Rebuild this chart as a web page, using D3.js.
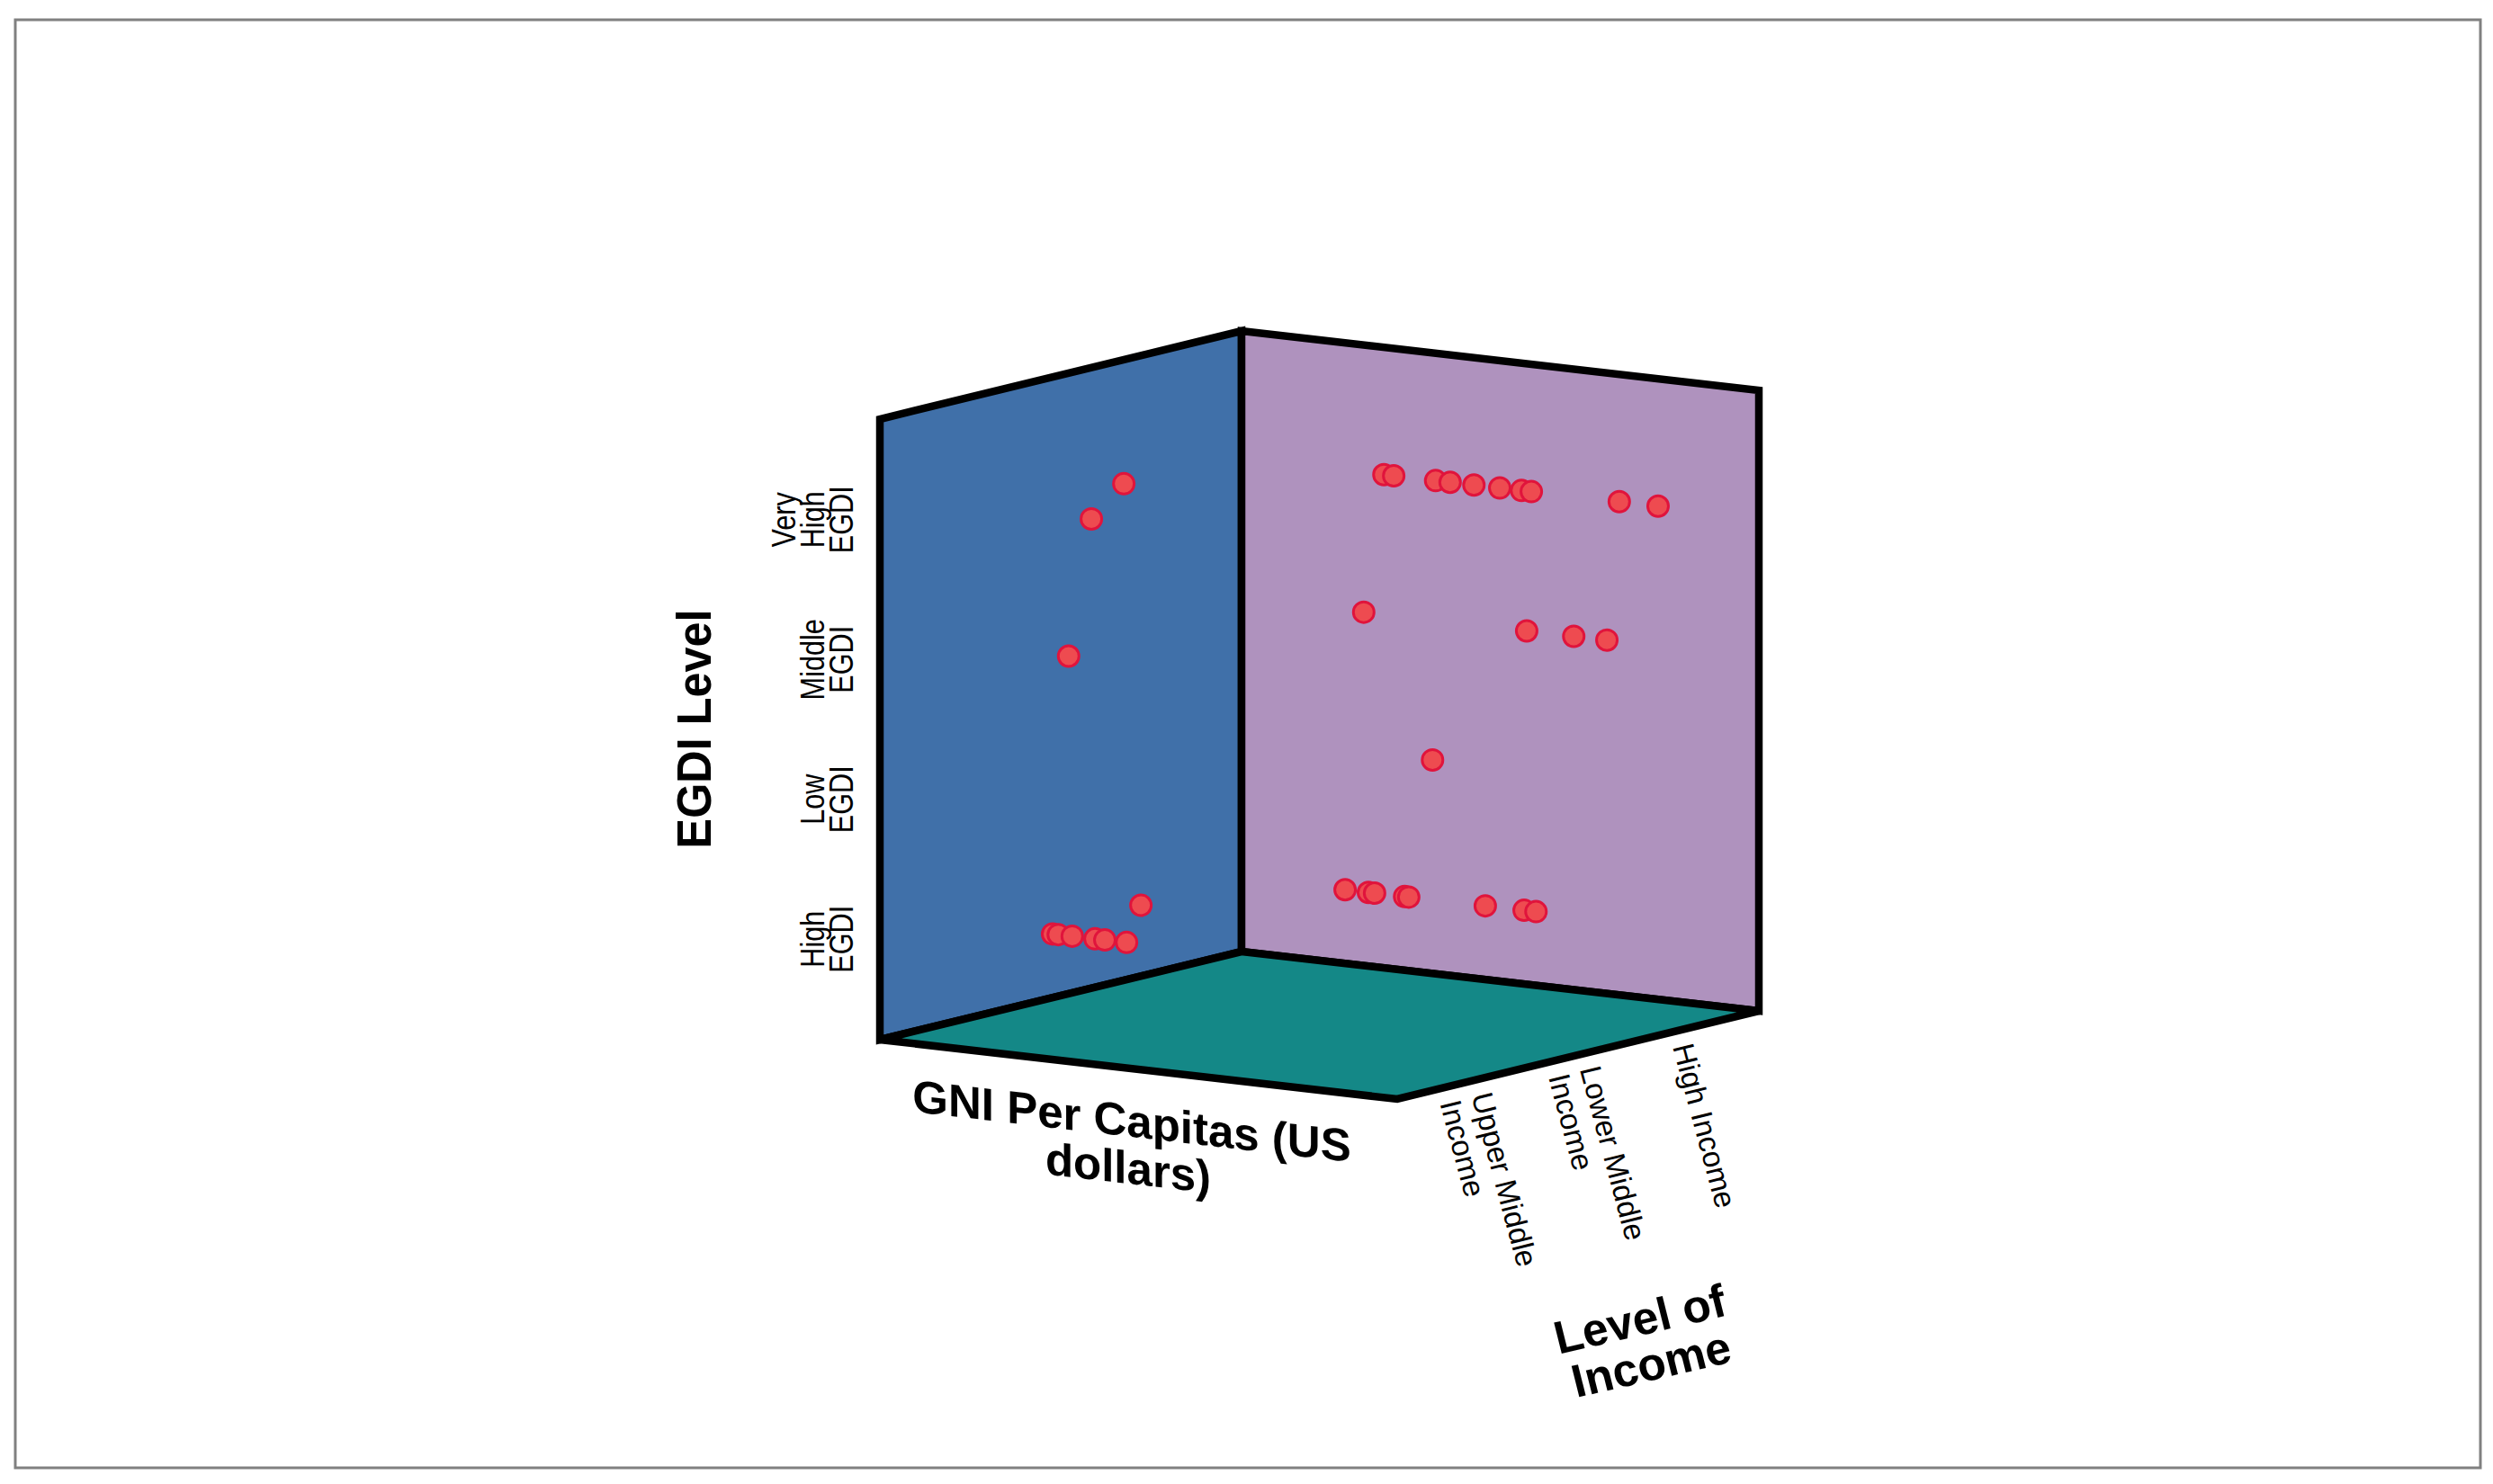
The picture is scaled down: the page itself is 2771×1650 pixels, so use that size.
<!DOCTYPE html>
<html>
<head>
<meta charset="utf-8">
<script src="https://cdn.jsdelivr.net/npm/d3@7"></script>
<style>
  html, body { margin: 0; padding: 0; background: #fff; }
  text { font-family: "Liberation Sans", Arial, sans-serif; fill: #000; }
</style>
</head>
<body>
<div id="chart"></div>
<script>
// categories, in axis order (egdi from the floor up, income from the back wall forward)
const egdiLevels = ['High EGDI', 'Low EGDI', 'Middle EGDI', 'Very High EGDI']
const incomeLevels = ['High Income', 'Lower Middle Income', 'Upper Middle Income']

const egdiTickLines = [['High', 'EGDI'], ['Low', 'EGDI'], ['Middle', 'EGDI'], ['Very', 'High', 'EGDI']]
const incomeTickLines = [['High Income'], ['Lower Middle', 'Income'], ['Upper Middle', 'Income']]

// GNI has no printed ticks, so these are positions read along the axis, 0 to 100
const gniVeryHighHigh = [41.5, 43.4, 51.5, 54.3, 58.9, 63.9, 68.1, 70, 87, 94.5]
const gniMiddleHigh = [37.6, 69.1, 78.2, 84.6]
const gniLowHigh = [50.9]
const gniHighHigh = [34, 38.5, 39.7, 45.5, 46.3, 61.1, 68.6, 70.9]
const gniVeryHighLower = [12.2]
const gniHighLower = [15.5]
const gniVeryHighUpper = [26.9]
const gniMiddleUpper = [22.5]
const gniHighUpper = [19.4, 20.5, 23.2, 27.6, 29.5, 33.7]

const groups = [
    [gniVeryHighHigh, 'Very High EGDI', 'High Income'],
    [gniMiddleHigh, 'Middle EGDI', 'High Income'],
    [gniLowHigh, 'Low EGDI', 'High Income'],
    [gniHighHigh, 'High EGDI', 'High Income'],
    [gniVeryHighLower, 'Very High EGDI', 'Lower Middle Income'],
    [gniHighLower, 'High EGDI', 'Lower Middle Income'],
    [gniVeryHighUpper, 'Very High EGDI', 'Upper Middle Income'],
    [gniMiddleUpper, 'Middle EGDI', 'Upper Middle Income'],
    [gniHighUpper, 'High EGDI', 'Upper Middle Income'],
]
const points = groups.flatMap(([gni, egdi, income]) => gni.map(g => ({ gni: g, egdi, income })))

const width = 2771, height = 1650

// oblique projection of the box, all axes run 0..1
const gniScale = d3.scaleLinear().domain([0, 100]).range([0, 1])
const incomeScale = d3.scalePoint().domain(incomeLevels).range([0.2, 0.8])
const egdiScale = d3.scalePoint().domain(egdiLevels).range([0.162, 0.838])

const project = (g, d, e) => [
    1380 + g * 575 - d * 402,
    1058 + g * 66 + d * 98 - e * 690,
]

const svg = d3.select('#chart').append('svg')
    .attr('width', width)
    .attr('height', height)

svg.append('rect')
    .attr('x', 17).attr('y', 22)
    .attr('width', 2740).attr('height', 1610)
    .attr('fill', 'none')
    .attr('stroke', '#808080')
    .attr('stroke-width', 3)

const faces = [
    { fill: '#4070a9', corners: [[0, 1, 0], [0, 0, 0], [0, 0, 1], [0, 1, 1]] },
    { fill: '#af92be', corners: [[0, 0, 0], [1, 0, 0], [1, 0, 1], [0, 0, 1]] },
    { fill: '#148887', corners: [[0, 1, 0], [1, 1, 0], [1, 0, 0], [0, 0, 0]] },
]

svg.selectAll('path.face').data(faces)
    .enter()
    .append('path')
    .attr('class', 'face')
    .attr('d', d => d3.line()(d.corners.map(c => project(...c))) + 'Z')
    .attr('fill', d => d.fill)
    .attr('stroke', '#000')
    .attr('stroke-width', 8.5)
    .attr('stroke-linejoin', 'miter')

svg.selectAll('circle.point').data(points)
    .enter()
    .append('circle')
    .attr('class', 'point')
    .attr('cx', d => project(gniScale(d.gni), incomeScale(d.income), egdiScale(d.egdi))[0])
    .attr('cy', d => project(gniScale(d.gni), incomeScale(d.income), egdiScale(d.egdi))[1] + 1)
    .attr('r', 11.5)
    .attr('fill', '#ee4b50')
    .attr('stroke', '#e0143c')
    .attr('stroke-width', 3)

// egdi ticks, rotated and squeezed along the text like the original
egdiLevels.forEach((level, i) => {
    const y = project(0, 1, egdiScale(level))[1]
    const lines = egdiTickLines[i]
    lines.forEach((line, j) => {
        svg.append('text')
            .attr('transform', `translate(${948 - (lines.length - 1 - j) * 32},${y}) rotate(-90) scale(0.84,1)`)
            .attr('text-anchor', 'middle')
            .attr('font-size', 36.5)
            .text(line)
    })
})

// income ticks run down from the front right edge, sheared along it
incomeLevels.forEach((level, i) => {
    const p = project(1, incomeScale(level), 0)
    const lines = incomeTickLines[i]
    lines.forEach((line, j) => {
        const off = (j - (lines.length - 1) / 2) * 36 + 12
        const x = p[0] - 4 - 0.97 * off, y = p[1] + 17 + 0.24 * off
        svg.append('text')
            .attr('transform', `matrix(0.26,0.966,-0.97,0.24,${x},${y})`)
            .attr('font-size', 33.5)
            .text(line)
    })
})

svg.append('text')
    .attr('transform', 'translate(790,810.5) rotate(-90) scale(0.95,1)')
    .attr('text-anchor', 'middle')
    .attr('font-size', 53)
    .attr('font-weight', 'bold')
    .text('EGDI Level')

const gniTitle = ['GNI Per Capitas (US', 'dollars)']
gniTitle.forEach((line, i) => {
    svg.append('text')
        .attr('transform', `matrix(1,0.115,0,1,${1258 - i * 4},${1264 + i * 52})`)
        .attr('text-anchor', 'middle')
        .attr('font-size', 51)
        .attr('font-weight', 'bold')
        .text(line)
})

const incomeTitle = ['Level of', 'Income']
incomeTitle.forEach((line, i) => {
    svg.append('text')
        .attr('transform', `matrix(1,-0.23,0.25,1,${1827 + i * 12.5},${1484 + i * 50})`)
        .attr('text-anchor', 'middle')
        .attr('font-size', 50)
        .attr('font-weight', 'bold')
        .text(line)
})
</script>
</body>
</html>
